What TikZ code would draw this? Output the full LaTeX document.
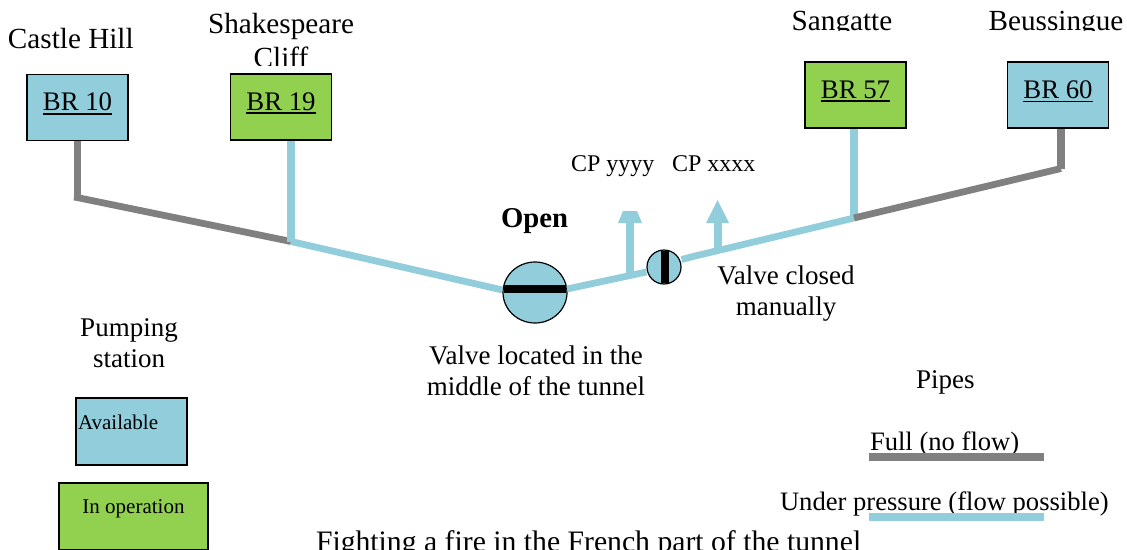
\documentclass[tikz,border=0pt]{standalone}
\usepackage{fontspec}
\setmainfont{Liberation Serif}
\definecolor{pipeblue}{HTML}{92CDDC}
\definecolor{stationgreen}{HTML}{92D050}
\definecolor{pipegray}{HTML}{808080}
\newcommand{\fs}[1]{\fontsize{#1}{31}\selectfont}
\newcommand{\ulbox}[1]{\setbox0\hbox{#1}\rlap{\rule[-3.6pt]{\wd0}{1.5pt}}\box0}
\tikzset{
  txt/.style={inner sep=0pt,outer sep=0pt,anchor=base,align=center,font=\fs{27}},
  txtw/.style={txt,anchor=base west},
  station/.style={draw=black,line width=1.2pt,inner sep=0pt,minimum width=101pt,minimum height=66pt,font=\fs{26.8}},
  avail/.style={station,fill=pipeblue},
  oper/.style={station,fill=stationgreen},
  fullpipe/.style={draw=pipegray,line width=6.8pt},
  fullriser/.style={draw=pipegray,line width=7.5pt},
  flowpipe/.style={draw=pipeblue,line width=6.8pt},
  flowriser/.style={draw=pipeblue,line width=7.5pt},
  valve/.style={draw=black,line width=1.2pt,fill=pipeblue,inner sep=0pt,ellipse},
  bar/.style={draw=black,line width=8pt},
}
\usetikzlibrary{shapes.geometric}
\begin{document}
\begin{tikzpicture}[x=1pt,y=-1pt]
\useasboundingbox (0,0) rectangle (1127,549);
\clip (0,0) rectangle (1127,549);
% junctions
\coordinate (j10) at (77,197.5);
\coordinate (j19) at (291,241.5);
\coordinate (j57) at (854,218);
\coordinate (j60) at (1061,168.5);
\coordinate (tapy) at (630,276);
\coordinate (tapx) at (718,250);
\coordinate (heady) at (630,223);
\coordinate (headx) at (718,223);
% stations
\node[avail] (b10) at (77.5,107.5) {\raisebox{11pt}{\ulbox{BR 10}}};
\node[oper]  (b19) at (281,107)    {\raisebox{11pt}{\ulbox{BR 19}}};
\node[oper]  (b57) at (855.5,95)   {\raisebox{11pt}{\ulbox{BR 57}}};
\node[avail] (b60) at (1058,95)    {\raisebox{11pt}{\ulbox{BR 60}}};
% valves
\node[valve,minimum width=64pt,minimum height=61pt] (vopen) at (535,292.5) {};
\node[valve,minimum width=34pt,minimum height=34pt] (vclosed) at (664,267) {};
% pipes
\draw[fullriser] (b10.south) -- (j10 -| b10.south);
\draw[fullpipe] (74,197) -- (j10) -- (j19);
\draw[flowriser] (b19.south -| j19) -- (j19);
\draw[flowpipe] (j19) -- (vopen.west |- 0,290);
\draw[flowpipe] (567,289) -- (vclosed.west |- 0,272);
\draw[flowpipe] (vclosed.east |- 0,259.5) -- (693,256.5) -- (j57);
\draw[flowriser] (b57.south -| j57) -- (j57);
\draw[fullpipe] (j57) -- (j60);
\draw[fullriser] (b60.south -| j60) -- (j60);
% valve bars
\draw[bar] (504,289) -- (566,289);
\draw[bar] (665,251) -- (665,283);
% outlets
\draw[flowriser] (tapy) -- (heady);
\draw[flowriser] (tapx) -- (headx);
\fill[pipeblue] (618,223) -- (623,211) -- (637,211) -- (642,223) -- cycle;
\fill[pipeblue] (706,223) -- (717.5,200) -- (729,223) -- cycle;
% station names
\node[txtw,font=\fs{29.2}] (ncastle) at (8,48) {Castle Hill};
\begin{scope}
\clip (190,0) rectangle (370,65);
\node[txt,font=\fs{29.2}] (nshak) at (281,33) {Shakespeare};
\node[txt,font=\fs{29.2}] (ncliff) at (281,67) {Cliff};
\end{scope}
\begin{scope}
\clip (770,0) rectangle (1127,30);
\node[txt,font=\fs{29.2}] (nsang) at (842,30) {Sangatte};
\node[txt,font=\fs{29.2}] (nbeus) at (1056,30) {Beussingue};
\end{scope}
% labels
\node[txtw,font=\fs{24}] (cpy) at (571,171) {CP yyyy};
\node[txtw,font=\fs{24}] (cpx) at (672,171) {CP xxxx};
\node[txt,font=\fs{28.7}\bfseries] (open) at (534.5,227) {Open};
\node[txt] (vc1) at (786,284.5) {Valve closed};
\node[txt] (vc2) at (786,315.5) {manually};
\node[txt] (vl1) at (536,364.5) {Valve located in the};
\node[txt] (vl2) at (536,395.5) {middle of the tunnel};
% legend, stations
\node[txt] (ps1) at (129,336) {Pumping};
\node[txt] (ps2) at (129,367) {station};
\node[avail,minimum width=111pt,minimum height=67pt] (lav) at (131.5,431.5) {};
\node[txtw,font=\fs{21}] (lavt) at (78,429) {Available};
\node[oper,minimum width=149pt,minimum height=67pt] (lop) at (133.5,516.5) {};
\node[txt,font=\fs{21}] (lopt) at (133.5,513) {In operation};
% legend, pipes
\node[txtw] (lp) at (916,388) {Pipes};
\node[txtw,font=\fs{26.6}] (lf) at (870,450) {Full (no flow)};
\node[txtw,font=\fs{26.6}] (lu) at (780,510) {Under pressure (flow possible)};
\coordinate (lg1) at (869,457);
\coordinate (lg2) at (1044,457);
\coordinate (lb1) at (869,517);
\coordinate (lb2) at (1044,517);
\draw[draw=pipegray,line width=8pt] (lg1) -- (lg2);
\draw[draw=pipeblue,line width=8pt] (lb1) -- (lb2);
% caption
\node[txtw,font=\fs{29.7}] (cap) at (316,551) {Fighting a fire in the French part of the tunnel};
\end{tikzpicture}
\end{document}
